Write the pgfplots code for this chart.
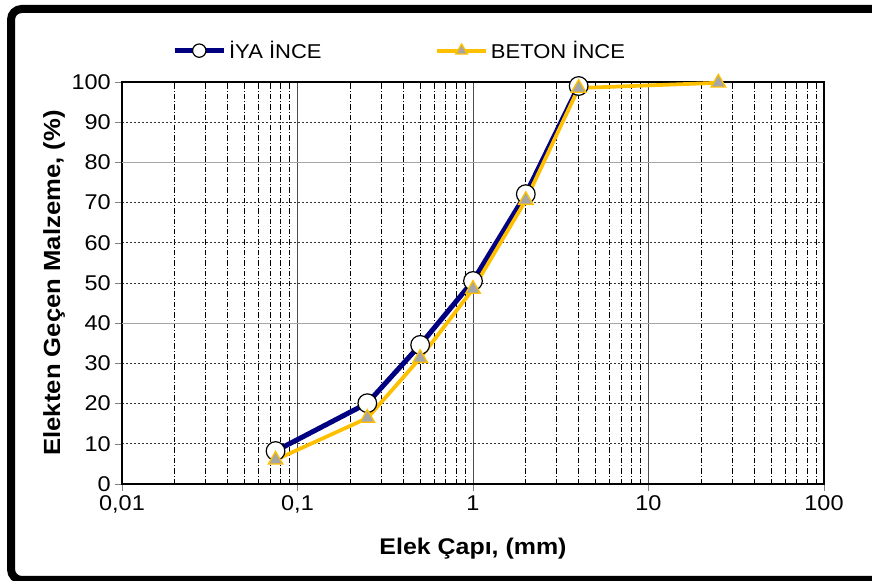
\documentclass[border=0pt]{standalone}
\usepackage{fontspec}
\setmainfont{Liberation Sans}[FakeStretch=1.1]
\usepackage{pgfplots}
\pgfplotsset{compat=1.18}
\definecolor{navyline}{HTML}{000080}
\definecolor{goldline}{HTML}{FFC000}
\definecolor{trifill}{HTML}{A6A6A6}
\begin{document}
\begin{tikzpicture}
\path[use as bounding box] (0pt,0pt) rectangle (654pt,435.75pt);
\begin{scope}
\clip (0pt,0pt) rectangle (654pt,435.75pt);
\draw[line width=6pt,rounded corners=8pt] (8.25pt,0.75pt) rectangle (690pt,429pt);
\end{scope}
\begin{axis}[
  at={(91.5pt,72.75pt)}, anchor=south west,
  scale only axis, width=526.5pt, height=301.5pt,
  xmode=log, xmin=0.01, xmax=100, ymin=0, ymax=100,
  xtick={0.01,0.1,1,10,100},
  xticklabels={{0,01},{0,1},1,10,100},
  ytick={0,10,...,100},
  /pgf/number format/assume math mode=true,
  tick label style={font=\fontsize{16}{18}\selectfont},
  tick align=outside, tick pos=left,
  major tick length=5pt, minor tick length=0pt,
  axis line style={line width=1.6pt},
  xmajorgrids, xminorgrids, ymajorgrids,
  major x grid style={black!70, line width=0.6pt},
  minor x grid style={black, line width=0.5pt, dash pattern=on 4pt off 1.5pt on 0.8pt off 1.5pt},
  major y grid style={black!80, line width=0.5pt, dash pattern=on 1.5pt off 1.5pt},
  extra y ticks={40,80}, extra y tick labels={},
  extra y tick style={major tick length=0pt, major y grid style={black!35, solid, line width=0.7pt}},
  xlabel={\bfseries Elek Çapı, (mm)},
  ylabel={\bfseries Elekten Geçen Malzeme, (\%)},
  xlabel style={font=\fontsize{17}{19}\selectfont\bfseries, yshift=-12pt},
  ylabel style={font=\fontsize{17.5}{19}\selectfont\bfseries, yshift=-7pt},
  legend columns=2,
  legend style={draw=none, fill=none, at={(0.071,1.04)}, anchor=south west,
    inner xsep=0pt,
    font=\fontsize{15}{17}\selectfont,
    /tikz/every even column/.append style={column sep=83pt},
    /tikz/every odd column/.append style={column sep=0pt}},
  legend cell align=left,
  legend image code/.code={
    \draw[#1, line width=3pt] (0pt,0pt) -- (37pt,0pt);
    \draw[#1, mark size=5pt, mark repeat=2, mark phase=2] plot coordinates {(0pt,0pt) (18.5pt,0pt) (37pt,0pt)};
  },
]
\addplot[navyline, line width=3.75pt, mark=*, mark size=7pt,
  mark options={solid, fill=white, draw=black, line width=0.9pt}]
  coordinates {(0.075,8.2) (0.25,20.1) (0.5,34.6) (1,50.5) (2,72.1) (4,99)};
\addlegendentry{İYA İNCE}
\addplot[goldline, line width=2.8pt, mark=triangle*, mark size=6.3pt,
  mark options={solid, fill=trifill, draw=goldline, line width=1pt}]
  coordinates {(0.075,6) (0.25,16.4) (0.5,31.3) (1,48.5) (2,70.6) (4,98.5) (25,99.8)};
\addlegendentry{BETON İNCE}
\end{axis}
\end{tikzpicture}
\end{document}
